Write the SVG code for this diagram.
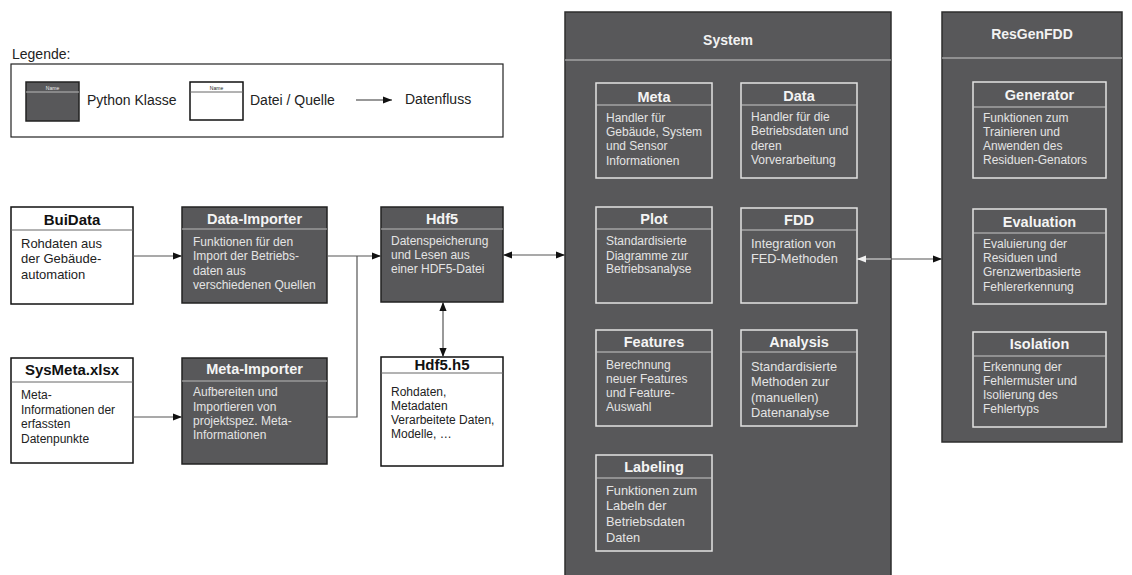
<svg xmlns="http://www.w3.org/2000/svg" width="1132" height="575" viewBox="0 0 1132 575">
  <style>
    text { font-family: "Liberation Sans", Arial, sans-serif; }
    .panel { fill: #58585a; stroke: #2e2e2e; stroke-width: 1.5; }
    .cls { fill: #58585a; stroke: #222; stroke-width: 1.5; }
    .file { fill: #fff; stroke: #111; stroke-width: 1.5; }
    .inner { fill: none; stroke: #e2e2e2; stroke-width: 1.5; }
    .sepD { stroke: #b8b8b8; stroke-width: 1; }
    .sepW { stroke: #666; stroke-width: 1; }
    .sepP { stroke: #c8c8c8; stroke-width: 1; }
    .ptitle { font-size: 14px; font-weight: bold; fill: #f2f2f2; text-anchor: middle; }
    .tD { font-size: 14.5px; font-weight: bold; fill: #f4f4f4; text-anchor: middle; }
    .tW { font-size: 15px; font-weight: bold; fill: #111; text-anchor: middle; }
    .bD { font-size: 12px; fill: #e4e4e4; }
    .bW { font-size: 12px; fill: #222; }
    .bW13 { font-size: 13px; fill: #222; }
    .bD13 { font-size: 12.8px; fill: #e4e4e4; }
    .leg { font-size: 14px; fill: #222; }
    .tiny { font-size: 5px; text-anchor: middle; }
    .wire { fill: none; stroke: #555; stroke-width: 1.2; }
    .wireL { fill: none; stroke: #e8e8e8; stroke-width: 1.2; }
  </style>
  <defs>
    <marker id="ah" viewBox="0 0 10 10" refX="10" refY="5" markerWidth="9" markerHeight="9" markerUnits="userSpaceOnUse" orient="auto-start-reverse">
      <path d="M0,1 L10,5 L0,9 z" fill="#111"/>
    </marker>
    <marker id="ahW" viewBox="0 0 10 10" refX="10" refY="5" markerWidth="9" markerHeight="9" markerUnits="userSpaceOnUse" orient="auto-start-reverse">
      <path d="M0,1 L10,5 L0,9 z" fill="#f0f0f0"/>
    </marker>
  </defs>

  <!-- Legend -->
  <g id="legend">
    <text x="12" y="59" class="leg">Legende:</text>
    <rect x="11" y="64" width="492" height="73" fill="#fff" stroke="#222" stroke-width="1.2"/>
    <rect x="26" y="82" width="53" height="39" class="cls"/>
    <line x1="26" y1="92" x2="79" y2="92" class="sepD"/>
    <text x="52.5" y="89.5" class="tiny" fill="#eee">Name</text>
    <text x="87" y="105" class="leg">Python  Klasse</text>
    <rect x="190" y="82" width="53" height="38" class="file" stroke-width="1.2"/>
    <line x1="190" y1="92" x2="243" y2="92" class="sepW"/>
    <text x="216.5" y="89.5" class="tiny" fill="#222">Name</text>
    <text x="250" y="105" class="leg">Datei / Quelle</text>
    <line x1="356" y1="100" x2="392" y2="100" stroke="#333" stroke-width="1.2" marker-end="url(#ah)"/>
    <text x="405" y="104" class="leg">Datenfluss</text>
  </g>

  <!-- Sources -->
  <g id="buidata">
    <rect x="11" y="207" width="122" height="97" class="file"/>
    <line x1="11" y1="230" x2="133" y2="230" class="sepW"/>
    <text x="72" y="225" class="tW">BuiData</text>
    <text class="bW13"><tspan x="21" y="248">Rohdaten aus</tspan><tspan x="21" y="263">der Gebäude-</tspan><tspan x="21" y="279">automation</tspan></text>
  </g>

  <g id="sysmeta">
    <rect x="11" y="358" width="122" height="105" class="file"/>
    <line x1="11" y1="382" x2="133" y2="382" class="sepW"/>
    <text x="72" y="375" class="tW">SysMeta.xlsx</text>
    <text class="bW"><tspan x="21" y="399">Meta-</tspan><tspan x="21" y="414">Informationen der</tspan><tspan x="21" y="428">erfassten</tspan><tspan x="21" y="443">Datenpunkte</tspan></text>
  </g>

  <!-- Importers -->
  <g id="data-importer">
    <rect x="182" y="207" width="145" height="96" class="cls"/>
    <line x1="182" y1="229" x2="327" y2="229" class="sepD"/>
    <text x="254.5" y="224" class="tD">Data-Importer</text>
    <text class="bD"><tspan x="193" y="246">Funktionen für den</tspan><tspan x="193" y="260">Import der Betriebs-</tspan><tspan x="193" y="274.5">daten aus</tspan><tspan x="193" y="289">verschiedenen Quellen</tspan></text>
  </g>

  <g id="meta-importer">
    <rect x="182" y="358" width="145" height="106" class="cls"/>
    <line x1="182" y1="381" x2="327" y2="381" class="sepD"/>
    <text x="254.5" y="374" class="tD">Meta-Importer</text>
    <text class="bD"><tspan x="193" y="396">Aufbereiten und</tspan><tspan x="193" y="411">Importieren von</tspan><tspan x="193" y="425">projektspez. Meta-</tspan><tspan x="193" y="439">Informationen</tspan></text>
  </g>

  <!-- Storage -->
  <g id="hdf5">
    <rect x="381" y="207" width="122" height="95" class="cls"/>
    <line x1="381" y1="229" x2="503" y2="229" class="sepD"/>
    <text x="442" y="224" class="tD">Hdf5</text>
    <text class="bD"><tspan x="391" y="245">Datenspeicherung</tspan><tspan x="391" y="259">und Lesen aus</tspan><tspan x="391" y="273">einer HDF5-Datei</tspan></text>
  </g>

  <g id="hdf5-file">
    <rect x="381" y="357" width="122" height="109" class="file"/>
    <line x1="381" y1="373" x2="503" y2="373" class="sepW"/>
    <text x="442" y="370" class="tW">Hdf5.h5</text>
    <text class="bW"><tspan x="391" y="396">Rohdaten,</tspan><tspan x="391" y="410">Metadaten</tspan><tspan x="391" y="424">Verarbeitete Daten,</tspan><tspan x="391" y="438">Modelle, …</tspan></text>
  </g>

  <!-- System package -->
  <g id="system">
    <rect x="565" y="12" width="326" height="570" class="panel"/>
    <line x1="565" y1="60" x2="891" y2="60" class="sepP"/>
    <text x="728" y="45" class="ptitle">System</text>

    <g id="meta">
      <rect x="596" y="83" width="116" height="95" class="inner"/>
      <line x1="596" y1="105" x2="712" y2="105" class="sepP"/>
      <text x="654" y="102" class="tD">Meta</text>
      <text class="bD"><tspan x="606" y="121.5">Handler für</tspan><tspan x="606" y="136">Gebäude, System</tspan><tspan x="606" y="150">und Sensor</tspan><tspan x="606" y="164.5">Informationen</tspan></text>
    </g>

    <g id="data">
      <rect x="741" y="83" width="116" height="95" class="inner"/>
      <line x1="741" y1="105" x2="857" y2="105" class="sepP"/>
      <text x="799" y="101" class="tD">Data</text>
      <text class="bD"><tspan x="751" y="121">Handler für die</tspan><tspan x="751" y="135">Betriebsdaten und</tspan><tspan x="751" y="149.5">deren</tspan><tspan x="751" y="163.5">Vorverarbeitung</tspan></text>
    </g>

    <g id="plot">
      <rect x="596" y="207" width="116" height="96" class="inner"/>
      <line x1="596" y1="229" x2="712" y2="229" class="sepP"/>
      <text x="654" y="224" class="tD">Plot</text>
      <text class="bD" font-size="11.5"><tspan x="606" y="245">Standardisierte</tspan><tspan x="606" y="259.5">Diagramme zur</tspan><tspan x="606" y="273">Betriebsanalyse</tspan></text>
    </g>

    <g id="fdd">
      <rect x="741" y="208" width="116" height="95" class="inner"/>
      <line x1="741" y1="230" x2="857" y2="230" class="sepP"/>
      <text x="799" y="225" class="tD">FDD</text>
      <text class="bD13"><tspan x="751" y="247.5">Integration von</tspan><tspan x="751" y="262.5">FED-Methoden</tspan></text>
    </g>

    <g id="features">
      <rect x="596" y="330" width="116" height="96" class="inner"/>
      <line x1="596" y1="352" x2="712" y2="352" class="sepP"/>
      <text x="654" y="347" class="tD">Features</text>
      <text class="bD"><tspan x="606" y="369">Berechnung</tspan><tspan x="606" y="383">neuer Features</tspan><tspan x="606" y="397">und Feature-</tspan><tspan x="606" y="411">Auswahl</tspan></text>
    </g>

    <g id="analysis">
      <rect x="741" y="330" width="116" height="96" class="inner"/>
      <line x1="741" y1="352" x2="857" y2="352" class="sepP"/>
      <text x="799" y="347" class="tD">Analysis</text>
      <text class="bD13"><tspan x="751" y="370.5">Standardisierte</tspan><tspan x="751" y="386">Methoden zur</tspan><tspan x="751" y="401.5">(manuellen)</tspan><tspan x="751" y="417">Datenanalyse</tspan></text>
    </g>

    <g id="labeling">
      <rect x="596" y="455" width="116" height="96" class="inner"/>
      <line x1="596" y1="478" x2="712" y2="478" class="sepP"/>
      <text x="654" y="472" class="tD">Labeling</text>
      <text class="bD13"><tspan x="606" y="494.5">Funktionen zum</tspan><tspan x="606" y="510">Labeln der</tspan><tspan x="606" y="526">Betriebsdaten</tspan><tspan x="606" y="541.5">Daten</tspan></text>
    </g>
  </g>

  <!-- ResGenFDD package -->
  <g id="resgenfdd">
    <rect x="942" y="12" width="180" height="430" class="panel"/>
    <line x1="942" y1="58" x2="1122" y2="58" class="sepP"/>
    <text x="1032" y="38.5" class="ptitle" font-size="14.5">ResGenFDD</text>

    <g id="generator">
      <rect x="973" y="82" width="133" height="96" class="inner"/>
      <line x1="973" y1="107" x2="1106" y2="107" class="sepP"/>
      <text x="1039.5" y="100" class="tD">Generator</text>
      <text class="bD"><tspan x="983" y="121.5">Funktionen zum</tspan><tspan x="983" y="135.5">Trainieren und</tspan><tspan x="983" y="149.5">Anwenden des</tspan><tspan x="983" y="163.5">Residuen-Genators</tspan></text>
    </g>

    <g id="evaluation">
      <rect x="973" y="209" width="133" height="95" class="inner"/>
      <line x1="973" y1="233" x2="1106" y2="233" class="sepP"/>
      <text x="1039.5" y="227" class="tD">Evaluation</text>
      <text class="bD"><tspan x="983" y="247.5">Evaluierung der</tspan><tspan x="983" y="261.5">Residuen und</tspan><tspan x="983" y="276">Grenzwertbasierte</tspan><tspan x="983" y="290.5">Fehlererkennung</tspan></text>
    </g>

    <g id="isolation">
      <rect x="973" y="332" width="133" height="95" class="inner"/>
      <line x1="973" y1="356" x2="1106" y2="356" class="sepP"/>
      <text x="1039.5" y="349" class="tD">Isolation</text>
      <text class="bD"><tspan x="983" y="370.5">Erkennung der</tspan><tspan x="983" y="384.5">Fehlermuster und</tspan><tspan x="983" y="398.5">Isolierung des</tspan><tspan x="983" y="413">Fehlertyps</tspan></text>
    </g>
  </g>

  <!-- Data flow connectors -->
  <g id="connectors">
    <line x1="133" y1="256" x2="182" y2="256" class="wire" marker-end="url(#ah)"/>
    <line x1="133" y1="417" x2="182" y2="417" class="wire" marker-end="url(#ah)"/>
    <line x1="327" y1="256" x2="381" y2="256" class="wire" marker-end="url(#ah)"/>
    <polyline points="327,417 357,417 357,256" class="wire"/>
    <line x1="503" y1="255" x2="565" y2="255" class="wire" marker-start="url(#ah)" marker-end="url(#ah)"/>
    <line x1="443" y1="302" x2="443" y2="357" class="wire" marker-start="url(#ah)" marker-end="url(#ah)"/>
    <line x1="857" y1="259" x2="891" y2="259" class="wireL" marker-start="url(#ahW)"/>
    <line x1="891" y1="259" x2="942" y2="259" class="wire" marker-end="url(#ah)"/>
  </g>
</svg>
